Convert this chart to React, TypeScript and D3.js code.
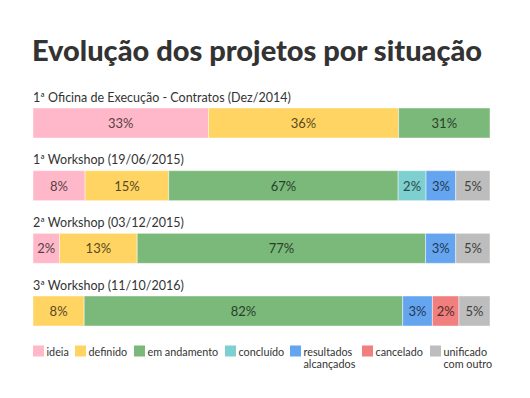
import React, { useRef, useEffect } from 'react';
import * as d3 from 'd3';

const statuses = ['ideia', 'definido', 'em andamento', 'concluído', 'resultados alcançados', 'cancelado', 'unificado com outro'];
const colors = ['#FFB8C9', '#FFD462', '#7AB97A', '#7ECFD0', '#65A5F0', '#F07F7D', '#BDBDBD'];

const events = [
  '1ª Oficina de Execução - Contratos (Dez/2014)',
  '1ª Workshop (19/06/2015)',
  '2ª Workshop (03/12/2015)',
  '3ª Workshop (11/10/2016)',
];

// segment sizes as drawn (share of the bar)
const sizes = [
  [38.4, 41.6, 20.0, 0, 0, 0, 0],
  [11.4, 18.3, 50.2, 6.1, 6.5, 0, 7.5],
  [5.8, 17.0, 63.1, 0, 6.6, 0, 7.5],
  [0, 11.2, 69.7, 0, 6.5, 5.8, 6.8],
];

const percents = [
  [33, 36, 31, 0, 0, 0, 0],
  [8, 15, 67, 2, 3, 0, 5],
  [2, 13, 77, 0, 3, 0, 5],
  [0, 8, 82, 0, 3, 2, 5],
];

const legendX = [33, 75, 134, 225, 290, 362, 430];

const App = () => {
  const ref = useRef<SVGSVGElement>(null);

  useEffect(() => {
    const svg = d3.select(ref.current);
    svg.selectAll('*').remove();
    const font = 'Lato, sans-serif';
    const barH = 30;

    svg.append('text')
      .attr('x', 257)
      .attr('y', 61)
      .attr('text-anchor', 'middle')
      .attr('font-family', font)
      .attr('font-weight', 900)
      .attr('font-size', 29)
      .attr('fill', '#333')
      .text('Evolução dos projetos por situação');

    const x = d3.scaleLinear().domain([0, 100]).range([33, 490]);
    const y = d3.scalePoint().domain(events).range([108, 296]);

    events.forEach((ev, i) => {
      const g = svg.append('g');
      const by = y(ev) as number;
      g.append('text')
        .attr('x', 33)
        .attr('y', by - 6.5)
        .attr('font-family', font)
        .attr('font-size', 12.5)
        .attr('fill', '#333')
        .text(ev);

      let acc = 0;
      const segs = sizes[i].map((s, j) => {
        const d = { j, start: acc, size: s, pct: percents[i][j] };
        acc += s;
        return d;
      }).filter((d) => d.size > 0);

      g.selectAll('rect')
        .data(segs)
        .enter()
        .append('rect')
        .attr('x', (d) => x(d.start))
        .attr('y', by)
        .attr('width', (d) => x(d.start + d.size) - x(d.start))
        .attr('height', barH)
        .attr('fill', (d) => colors[d.j])
        .attr('stroke', 'rgba(255,255,255,0.45)')
        .attr('stroke-width', 1);

      g.selectAll('text.pct')
        .data(segs)
        .enter()
        .append('text')
        .attr('class', 'pct')
        .attr('x', (d) => x(d.start + d.size / 2))
        .attr('y', by + 20)
        .attr('text-anchor', 'middle')
        .attr('font-family', font)
        .attr('font-size', 13)
        .attr('fill', (d) => d3.color(colors[d.j])!.darker(3).toString())
        .text((d) => `${d.pct}%`);
    });

    const legend = svg.append('g');
    statuses.forEach((s, j) => {
      const lx = legendX[j];
      legend.append('rect')
        .attr('x', lx)
        .attr('y', 345.5)
        .attr('width', 11)
        .attr('height', 11)
        .attr('fill', colors[j]);
      const words = s === 'resultados alcançados' ? ['resultados', 'alcançados']
        : s === 'unificado com outro' ? ['unificado', 'com outro'] : [s];
      words.forEach((w, k) => {
        legend.append('text')
          .attr('x', lx + 13.5)
          .attr('y', 356 + k * 11.5)
          .attr('font-family', font)
          .attr('font-size', 10.8)
          .attr('fill', '#333')
          .text(w);
      });
    });
  }, []);

  return (
    <svg ref={ref} width={530} height={398} style={{ position: 'absolute', left: 0, top: 0 }} />
  );
};

export default App;
